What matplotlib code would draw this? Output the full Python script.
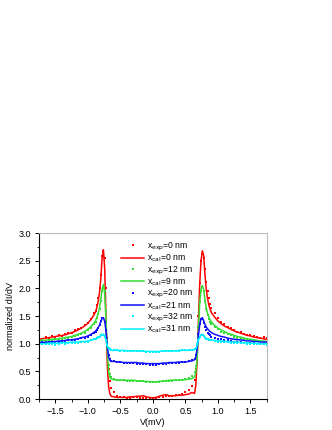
import numpy as np
import matplotlib
matplotlib.use("Agg")
import matplotlib.pyplot as plt
from matplotlib.ticker import MultipleLocator

# bias grid (mV): left tail, left peak, gap, right peak, right tail
V = ([-1.75, -1.70, -1.65, -1.60, -1.55, -1.50, -1.45, -1.40, -1.35, -1.30, -1.25, -1.20, -1.15, -1.10, -1.05, -1.00, -0.95, -0.90]
     + [-0.88, -0.86, -0.84, -0.82, -0.80, -0.78, -0.76, -0.74, -0.72, -0.70, -0.68, -0.66, -0.64]
     + [-0.60, -0.55, -0.50, -0.45, -0.40, -0.35, -0.30, -0.25, -0.20, -0.15, -0.10, -0.05, 0.00,
        0.05, 0.10, 0.15, 0.20, 0.25, 0.30, 0.35, 0.40, 0.45, 0.50, 0.55, 0.60]
     + [0.64, 0.66, 0.68, 0.70, 0.72, 0.74, 0.76, 0.78, 0.80, 0.82, 0.84, 0.86, 0.88]
     + [0.90, 0.95, 1.00, 1.05, 1.10, 1.15, 1.20, 1.25, 1.30, 1.35, 1.40, 1.45, 1.50, 1.55, 1.60, 1.65, 1.70, 1.75])

red_cal = ([1.08, 1.09, 1.10, 1.11, 1.12, 1.13, 1.14, 1.15, 1.16, 1.18, 1.20, 1.22, 1.25, 1.28, 1.32, 1.37, 1.44, 1.53]
           + [1.58, 1.66, 1.77, 1.93, 2.18, 2.55, 2.70, 2.35, 1.40, 0.60, 0.22, 0.09, 0.05]
           + [0.04, 0.03, 0.03, 0.03, 0.03, 0.04, 0.04, 0.05, 0.05, 0.06, 0.04, 0.03, 0.02,
              0.03, 0.05, 0.07, 0.08, 0.06, 0.06, 0.06, 0.07, 0.07, 0.08, 0.09, 0.12]
           + [0.10, 0.25, 0.70, 1.40, 2.10, 2.50, 2.68, 2.60, 2.25, 1.98, 1.82, 1.70, 1.62]
           + [1.56, 1.48, 1.41, 1.36, 1.32, 1.29, 1.26, 1.23, 1.21, 1.19, 1.17, 1.15, 1.14, 1.12, 1.11, 1.10, 1.09, 1.08])
red_exp = ([1.10, 1.08, 1.12, 1.10, 1.14, 1.13, 1.16, 1.14, 1.18, 1.19, 1.20, 1.24, 1.26, 1.29, 1.33, 1.38, 1.45, 1.55]
           + [1.60, 1.70, 1.82, 2.00, 2.25, 2.58, 2.68, 2.55, 2.00, 1.10, 0.55, 0.32, 0.20]
           + [0.12, 0.06, 0.04, 0.03, 0.02, 0.02, 0.03, 0.03, 0.02, 0.02, 0.02, 0.02, 0.02,
              0.02, 0.03, 0.04, 0.05, 0.06, 0.06, 0.07, 0.08, 0.09, 0.12, 0.16, 0.24]
           + [0.35, 0.55, 0.90, 1.50, 2.10, 2.50, 2.62, 2.55, 2.35, 2.12, 1.95, 1.82, 1.72]
           + [1.64, 1.55, 1.46, 1.40, 1.35, 1.30, 1.28, 1.24, 1.22, 1.22, 1.18, 1.16, 1.15, 1.14, 1.12, 1.11, 1.12, 1.10])

green_cal = ([1.05, 1.06, 1.06, 1.07, 1.08, 1.08, 1.09, 1.10, 1.11, 1.12, 1.13, 1.15, 1.17, 1.19, 1.22, 1.26, 1.31, 1.38]
             + [1.42, 1.48, 1.55, 1.65, 1.80, 1.98, 2.07, 1.90, 1.40, 0.85, 0.50, 0.39, 0.36]
             + [0.35, 0.34, 0.34, 0.34, 0.34, 0.34, 0.34, 0.33, 0.33, 0.32, 0.32, 0.31, 0.31,
                0.31, 0.32, 0.32, 0.33, 0.34, 0.34, 0.34, 0.34, 0.35, 0.35, 0.36, 0.37]
             + [0.40, 0.48, 0.75, 1.25, 1.75, 1.98, 2.05, 1.98, 1.80, 1.65, 1.55, 1.48, 1.43]
             + [1.39, 1.33, 1.28, 1.25, 1.22, 1.19, 1.17, 1.15, 1.13, 1.12, 1.10, 1.09, 1.08, 1.07, 1.06, 1.05, 1.05, 1.04])
green_exp = ([1.04, 1.06, 1.05, 1.06, 1.07, 1.08, 1.08, 1.09, 1.10, 1.11, 1.12, 1.14, 1.16, 1.18, 1.20, 1.24, 1.29, 1.35]
             + [1.40, 1.46, 1.53, 1.62, 1.78, 1.95, 2.03, 1.95, 1.60, 1.00, 0.62, 0.45, 0.39]
             + [0.36, 0.35, 0.34, 0.34, 0.33, 0.33, 0.33, 0.32, 0.32, 0.32, 0.31, 0.31, 0.31,
                0.31, 0.31, 0.32, 0.32, 0.33, 0.33, 0.34, 0.34, 0.35, 0.36, 0.38, 0.42]
             + [0.48, 0.60, 0.85, 1.30, 1.75, 1.95, 2.02, 1.95, 1.78, 1.62, 1.52, 1.45, 1.40]
             + [1.36, 1.30, 1.26, 1.22, 1.19, 1.17, 1.15, 1.13, 1.11, 1.10, 1.09, 1.08, 1.07, 1.06, 1.05, 1.05, 1.04, 1.04])

blue_cal = ([1.02, 1.02, 1.03, 1.03, 1.04, 1.04, 1.05, 1.05, 1.06, 1.07, 1.07, 1.08, 1.09, 1.11, 1.12, 1.14, 1.17, 1.21]
            + [1.23, 1.26, 1.29, 1.34, 1.40, 1.46, 1.47, 1.40, 1.22, 0.95, 0.76, 0.70, 0.68]
            + [0.68, 0.67, 0.67, 0.66, 0.66, 0.66, 0.66, 0.66, 0.65, 0.65, 0.64, 0.64, 0.64,
               0.64, 0.64, 0.65, 0.65, 0.66, 0.66, 0.66, 0.67, 0.67, 0.67, 0.68, 0.69]
            + [0.71, 0.76, 0.92, 1.15, 1.35, 1.45, 1.47, 1.42, 1.35, 1.30, 1.27, 1.24, 1.22]
            + [1.20, 1.17, 1.15, 1.13, 1.12, 1.10, 1.09, 1.08, 1.07, 1.07, 1.06, 1.05, 1.05, 1.04, 1.04, 1.03, 1.03, 1.03])
blue_exp = ([1.01, 1.03, 1.02, 1.03, 1.03, 1.04, 1.04, 1.05, 1.05, 1.06, 1.06, 1.07, 1.08, 1.10, 1.11, 1.13, 1.16, 1.20]
            + [1.22, 1.25, 1.29, 1.34, 1.41, 1.46, 1.46, 1.40, 1.25, 1.00, 0.80, 0.72, 0.69]
            + [0.68, 0.67, 0.67, 0.66, 0.65, 0.65, 0.65, 0.64, 0.64, 0.64, 0.63, 0.62, 0.62,
               0.62, 0.63, 0.64, 0.64, 0.65, 0.65, 0.66, 0.66, 0.67, 0.67, 0.68, 0.70]
            + [0.73, 0.80, 0.95, 1.18, 1.36, 1.44, 1.45, 1.38, 1.30, 1.24, 1.20, 1.17, 1.15]
            + [1.13, 1.11, 1.09, 1.08, 1.07, 1.06, 1.05, 1.04, 1.03, 1.03, 1.02, 1.02, 1.01, 1.01, 1.00, 1.00, 0.99, 0.98])

cyan_cal = ([1.00, 1.00, 1.00, 1.01, 1.01, 1.01, 1.01, 1.02, 1.02, 1.02, 1.03, 1.03, 1.03, 1.04, 1.04, 1.05, 1.06, 1.08]
            + [1.09, 1.10, 1.11, 1.13, 1.15, 1.17, 1.17, 1.14, 1.05, 0.95, 0.91, 0.89, 0.88]
            + [0.88, 0.88, 0.88, 0.88, 0.87, 0.87, 0.87, 0.87, 0.87, 0.87, 0.86, 0.86, 0.86,
               0.86, 0.86, 0.87, 0.87, 0.87, 0.87, 0.87, 0.88, 0.88, 0.88, 0.88, 0.89]
            + [0.89, 0.91, 0.97, 1.06, 1.13, 1.16, 1.17, 1.15, 1.12, 1.10, 1.09, 1.08, 1.07]
            + [1.07, 1.06, 1.05, 1.05, 1.04, 1.04, 1.03, 1.03, 1.03, 1.02, 1.02, 1.02, 1.01, 1.01, 1.01, 1.00, 1.00, 1.00])
cyan_exp = ([0.99, 1.00, 0.99, 1.00, 1.00, 0.98, 1.00, 1.01, 1.00, 1.01, 1.01, 1.02, 1.02, 1.03, 1.03, 1.04, 1.06, 1.08]
            + [1.09, 1.10, 1.12, 1.13, 1.15, 1.16, 1.16, 1.13, 1.06, 0.97, 0.92, 0.90, 0.89]
            + [0.88, 0.88, 0.87, 0.87, 0.87, 0.86, 0.86, 0.86, 0.86, 0.86, 0.85, 0.85, 0.85,
               0.85, 0.85, 0.86, 0.86, 0.86, 0.87, 0.87, 0.87, 0.88, 0.88, 0.88, 0.89]
            + [0.90, 0.93, 0.99, 1.07, 1.13, 1.15, 1.16, 1.14, 1.11, 1.09, 1.08, 1.07, 1.06]
            + [1.06, 1.05, 1.04, 1.04, 1.03, 1.03, 1.02, 1.02, 1.02, 1.01, 1.01, 1.00, 1.00, 1.00, 0.99, 0.99, 0.99, 0.98])

series = [
    (red_exp, red_cal, "#ff0000", "0", "0"),
    (green_exp, green_cal, "#33dd33", "12", "9"),
    (blue_exp, blue_cal, "#1010ff", "20", "21"),
    (cyan_exp, cyan_cal, "#00f0ff", "32", "31"),
]

plt.rcParams["font.family"] = "Liberation Sans"
fig = plt.figure(figsize=(3.32, 4.30), dpi=100)
ax = fig.add_axes([0.1175, 0.072, 0.686, 0.386])

for exp, cal, col, xe, xc in series:
    ax.plot(V, exp, ls="none", marker="s", ms=1.7, mew=0, color=col,
            label=r"x$_{\rm exp}$=%s nm" % xe)
    ax.plot(V, cal, lw=1.1, color=col, label=r"x$_{\rm cal}$=%s nm" % xc)

ax.set_xlim(-1.75, 1.75)
ax.set_ylim(0, 3.0)
ax.xaxis.set_major_locator(MultipleLocator(0.5))
ax.xaxis.set_minor_locator(MultipleLocator(0.25))
ax.yaxis.set_major_locator(MultipleLocator(0.5))
ax.yaxis.set_minor_locator(MultipleLocator(0.25))
ax.tick_params(which="both", direction="out", labelsize=6.5, top=False, right=False)
ax.tick_params(which="major", length=3, width=0.7, pad=3)
ax.tick_params(which="minor", length=1.8, width=0.6)
for s in ["top", "right"]:
    ax.spines[s].set_color("#bbbbbb")
for s in ["left", "bottom"]:
    ax.spines[s].set_linewidth(0.8)

ax.set_xlabel("V(mV)", fontsize=6.5, labelpad=1)
ax.set_ylabel("normalized dI/dV", fontsize=6.5, labelpad=2)

leg = ax.legend(loc="upper center", bbox_to_anchor=(0.52, 1.0), frameon=False,
                fontsize=6.2, handlelength=2.6, handletextpad=0.4, labelspacing=0.0,
                markerscale=1.2)

fig.savefig("out.png", dpi=100)
